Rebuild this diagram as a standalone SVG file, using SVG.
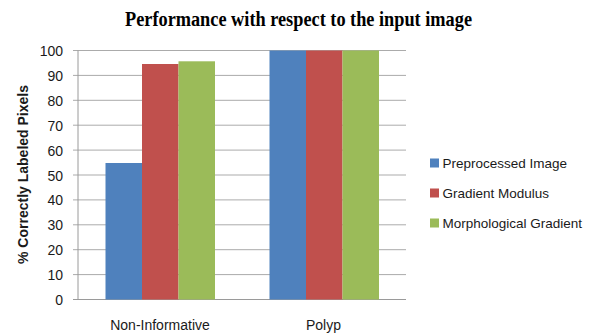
<svg xmlns="http://www.w3.org/2000/svg" width="606" height="334" viewBox="0 0 606 334">
  <style>
    .grid { stroke: #ABABAB; stroke-width: 1; fill: none; }
    .axis { stroke: #9A9A9A; stroke-width: 1; fill: none; }
    .tick { font-family: "Liberation Sans", Arial, sans-serif; font-size: 14px; fill: #1A1A1A; text-anchor: end; }
    .cat { font-family: "Liberation Sans", Arial, sans-serif; font-size: 14px; fill: #1A1A1A; text-anchor: middle; }
    .leg { font-family: "Liberation Sans", Arial, sans-serif; font-size: 13.5px; fill: #1A1A1A; }
    .s1 { fill: #4F81BD; }
    .s2 { fill: #C0504D; }
    .s3 { fill: #9BBB59; }
  </style>
  <rect width="606" height="334" fill="#FFFFFF"/>

  <!-- title -->
  <text x="298.5" y="26" text-anchor="middle" font-family="'Liberation Serif', 'Times New Roman', serif" font-weight="bold" font-size="20" textLength="347" lengthAdjust="spacingAndGlyphs" fill="#000000">Performance with respect to the input image</text>

  <!-- gridlines, 0..100 step 10 -->
  <g id="grid">
    <line class="grid" x1="73" y1="50.5" x2="406" y2="50.5"/>
    <line class="grid" x1="73" y1="75.4" x2="406" y2="75.4"/>
    <line class="grid" x1="73" y1="100.3" x2="406" y2="100.3"/>
    <line class="grid" x1="73" y1="125.2" x2="406" y2="125.2"/>
    <line class="grid" x1="73" y1="150.1" x2="406" y2="150.1"/>
    <line class="grid" x1="73" y1="175" x2="406" y2="175"/>
    <line class="grid" x1="73" y1="199.9" x2="406" y2="199.9"/>
    <line class="grid" x1="73" y1="224.8" x2="406" y2="224.8"/>
    <line class="grid" x1="73" y1="249.7" x2="406" y2="249.7"/>
    <line class="grid" x1="73" y1="274.6" x2="406" y2="274.6"/>
    <line class="axis" x1="73" y1="299.5" x2="406" y2="299.5"/>
    <line class="axis" x1="78" y1="50.5" x2="78" y2="299.5"/>
  </g>

  <!-- value axis labels -->
  <g id="y-labels">
    <text class="tick" x="63" y="56">100</text>
    <text class="tick" x="63" y="80.9">90</text>
    <text class="tick" x="63" y="105.8">80</text>
    <text class="tick" x="63" y="130.7">70</text>
    <text class="tick" x="63" y="155.6">60</text>
    <text class="tick" x="63" y="180.5">50</text>
    <text class="tick" x="63" y="205.4">40</text>
    <text class="tick" x="63" y="230.3">30</text>
    <text class="tick" x="63" y="255.2">20</text>
    <text class="tick" x="63" y="280.1">10</text>
    <text class="tick" x="63" y="305">0</text>
  </g>
  <text transform="translate(28 174.5) rotate(-90)" text-anchor="middle" font-family="'Liberation Sans', Arial, sans-serif" font-weight="bold" font-size="14" fill="#1A1A1A">% Correctly Labeled Pixels</text>

  <!-- bars -->
  <g id="non-informative">
    <rect class="s1" x="105.5" y="163" width="36.5" height="136.5"/>
    <rect class="s2" x="142" y="64" width="36.5" height="235.5"/>
    <rect class="s3" x="178.5" y="61.3" width="36.5" height="238.2"/>
    <text class="cat" x="160" y="330">Non-Informative</text>
  </g>
  <g id="polyp">
    <rect class="s1" x="269.5" y="50.5" width="36.5" height="249"/>
    <rect class="s2" x="306" y="50.5" width="36.5" height="249"/>
    <rect class="s3" x="342.5" y="50.5" width="36.5" height="249"/>
    <text class="cat" x="323.5" y="330">Polyp</text>
  </g>

  <!-- legend -->
  <g id="legend">
    <rect class="s1" x="430" y="158.5" width="9" height="9"/>
    <text class="leg" x="442.5" y="167.5">Preprocessed Image</text>
    <rect class="s2" x="430" y="188.5" width="9" height="9"/>
    <text class="leg" x="442.5" y="197.5">Gradient Modulus</text>
    <rect class="s3" x="430" y="218.5" width="9" height="9"/>
    <text class="leg" x="442.5" y="227.5">Morphological Gradient</text>
  </g>
</svg>
